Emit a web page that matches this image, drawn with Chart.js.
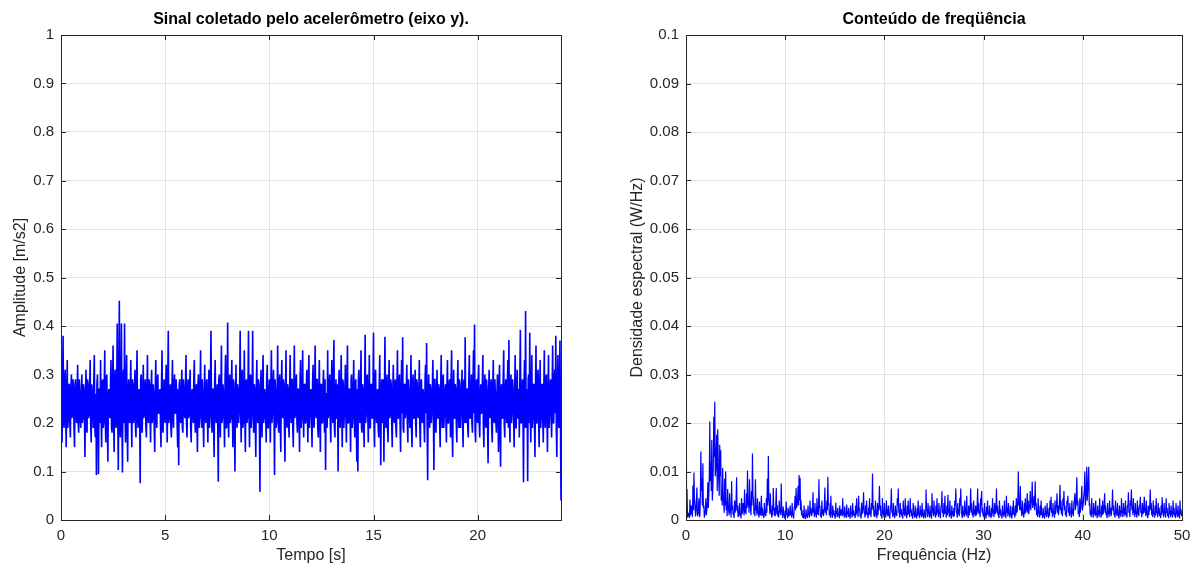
<!DOCTYPE html>
<html><head><meta charset="utf-8">
<script src="https://cdn.jsdelivr.net/npm/chart.js@4.4.1/dist/chart.umd.min.js"></script>
<style>
html,body{margin:0;padding:0;background:#fff;overflow:hidden;width:1199px;height:567px;}
canvas{position:absolute;top:0;}
#c1{left:0;}
#c2{left:600px;}
</style></head><body>
<canvas id="c1" width="600" height="567"></canvas>
<canvas id="c2" width="599" height="567"></canvas>
<script>
// ---- data ----
const sampleInterval = 0.025; // s, one row below = 1 s
const signalY = [
0.34,0.21,0.16,0.27,0.38,0.20,0.19,0.29,0.31,0.22,0.15,0.26,0.33,0.19,0.21,0.28,0.28,0.20,0.17,0.27,0.30,0.21,0.22,0.29,0.27,0.19,0.15,0.28,0.29,0.22,0.20,0.26,0.32,0.20,0.18,0.29,0.26,0.21,0.19,0.27,
0.30,0.20,0.21,0.28,0.27,0.22,0.13,0.26,0.31,0.19,0.18,0.29,0.28,0.21,0.22,0.27,0.33,0.20,0.16,0.28,0.26,0.22,0.19,0.29,0.34,0.19,0.17,0.26,0.093,0.28,0.30,0.21,0.095,0.27,0.27,0.20,0.33,0.22,0.15,0.28,
0.29,0.19,0.20,0.27,0.35,0.21,0.16,0.29,0.30,0.20,0.12,0.26,0.27,0.22,0.21,0.28,0.33,0.19,0.18,0.27,0.36,0.21,0.14,0.29,0.31,0.20,0.19,0.28,0.405,0.22,0.103,0.27,0.452,0.19,0.17,0.26,0.405,0.21,0.098,0.29,
0.31,0.20,0.405,0.22,0.16,0.28,0.34,0.19,0.12,0.27,0.29,0.21,0.20,0.26,0.33,0.22,0.15,0.29,0.28,0.20,0.21,0.27,0.31,0.19,0.17,0.28,0.35,0.21,0.19,0.26,0.27,0.22,0.076,0.29,0.30,0.20,0.18,0.27,0.32,0.21,
0.22,0.28,0.29,0.19,0.17,0.26,0.34,0.21,0.20,0.29,0.28,0.22,0.16,0.27,0.31,0.20,0.21,0.28,0.26,0.19,0.14,0.27,0.33,0.21,0.19,0.29,0.30,0.22,0.22,0.26,0.27,0.20,0.15,0.28,0.35,0.19,0.18,0.27,0.29,0.21,
0.20,0.28,0.32,0.22,0.16,0.29,0.39,0.20,0.21,0.26,0.28,0.19,0.17,0.27,0.33,0.21,0.19,0.28,0.30,0.22,0.22,0.29,0.26,0.20,0.15,0.27,0.113,0.28,0.29,0.21,0.20,0.26,0.31,0.19,0.18,0.29,0.27,0.22,0.21,0.28,
0.34,0.20,0.17,0.27,0.29,0.21,0.22,0.28,0.31,0.19,0.16,0.26,0.27,0.22,0.20,0.29,0.33,0.21,0.18,0.27,0.28,0.20,0.14,0.28,0.30,0.19,0.21,0.26,0.35,0.22,0.19,0.29,0.26,0.20,0.15,0.27,0.32,0.21,0.20,0.28,
0.29,0.22,0.16,0.26,0.31,0.19,0.22,0.29,0.39,0.21,0.18,0.27,0.27,0.20,0.13,0.28,0.33,0.22,0.20,0.26,0.28,0.19,0.079,0.29,0.30,0.21,0.17,0.27,0.36,0.20,0.21,0.28,0.26,0.22,0.15,0.29,0.34,0.19,0.19,0.26,
0.407,0.21,0.17,0.28,0.30,0.20,0.21,0.27,0.33,0.22,0.15,0.29,0.28,0.19,0.10,0.26,0.32,0.21,0.19,0.28,0.27,0.20,0.22,0.27,0.39,0.22,0.16,0.29,0.31,0.19,0.20,0.26,0.35,0.21,0.14,0.28,0.29,0.20,0.21,0.27,
0.39,0.22,0.15,0.29,0.30,0.19,0.22,0.26,0.39,0.21,0.18,0.28,0.27,0.20,0.13,0.27,0.33,0.22,0.20,0.29,0.28,0.19,0.058,0.26,0.31,0.21,0.17,0.28,0.34,0.20,0.21,0.27,0.26,0.22,0.16,0.29,0.32,0.19,0.19,0.26,
0.29,0.21,0.16,0.28,0.35,0.20,0.22,0.27,0.31,0.22,0.093,0.29,0.27,0.19,0.20,0.26,0.36,0.21,0.18,0.28,0.30,0.20,0.14,0.27,0.33,0.22,0.21,0.29,0.28,0.19,0.12,0.26,0.35,0.21,0.19,0.28,0.27,0.20,0.17,0.27,
0.34,0.22,0.20,0.29,0.29,0.19,0.15,0.26,0.36,0.21,0.22,0.28,0.30,0.20,0.18,0.27,0.27,0.22,0.14,0.29,0.33,0.19,0.21,0.26,0.35,0.21,0.17,0.28,0.28,0.20,0.20,0.27,0.31,0.22,0.16,0.29,0.34,0.19,0.22,0.26,
0.27,0.21,0.15,0.28,0.32,0.20,0.19,0.27,0.36,0.22,0.21,0.29,0.29,0.19,0.17,0.26,0.33,0.21,0.14,0.28,0.28,0.20,0.20,0.27,0.31,0.22,0.18,0.29,0.103,0.26,0.26,0.19,0.35,0.21,0.22,0.28,0.30,0.20,0.16,0.27,
0.33,0.22,0.20,0.29,0.371,0.19,0.17,0.26,0.29,0.21,0.21,0.28,0.100,0.27,0.31,0.20,0.19,0.27,0.34,0.22,0.15,0.29,0.28,0.19,0.22,0.26,0.32,0.21,0.16,0.28,0.36,0.20,0.20,0.27,0.27,0.22,0.14,0.29,0.30,0.19,
0.21,0.26,0.33,0.21,0.17,0.28,0.29,0.20,0.12,0.27,0.100,0.29,0.31,0.22,0.20,0.26,0.35,0.19,0.18,0.28,0.27,0.21,0.15,0.27,0.382,0.20,0.22,0.29,0.30,0.22,0.16,0.26,0.34,0.19,0.19,0.28,0.28,0.21,0.21,0.27,
0.386,0.20,0.15,0.29,0.31,0.22,0.20,0.26,0.27,0.19,0.17,0.28,0.34,0.21,0.113,0.27,0.29,0.20,0.21,0.29,0.12,0.26,0.378,0.22,0.19,0.28,0.30,0.19,0.16,0.27,0.33,0.21,0.22,0.29,0.28,0.20,0.15,0.26,0.32,0.22,
0.20,0.28,0.29,0.19,0.17,0.27,0.35,0.21,0.21,0.29,0.30,0.20,0.14,0.26,0.33,0.22,0.377,0.19,0.18,0.28,0.28,0.21,0.22,0.27,0.32,0.20,0.16,0.29,0.27,0.22,0.19,0.26,0.34,0.19,0.15,0.28,0.30,0.21,0.21,0.27,
0.31,0.20,0.17,0.29,0.28,0.22,0.21,0.26,0.33,0.19,0.15,0.28,0.29,0.21,0.20,0.27,0.26,0.20,0.16,0.29,0.32,0.22,0.365,0.19,0.082,0.26,0.30,0.21,0.19,0.28,0.27,0.20,0.22,0.27,0.33,0.22,0.103,0.29,0.29,0.19,
0.18,0.26,0.31,0.21,0.21,0.28,0.27,0.20,0.15,0.27,0.34,0.22,0.19,0.29,0.30,0.19,0.22,0.26,0.28,0.21,0.16,0.28,0.33,0.20,0.20,0.27,0.29,0.22,0.17,0.29,0.35,0.19,0.13,0.26,0.31,0.21,0.21,0.28,0.27,0.20,
0.16,0.27,0.33,0.22,0.19,0.29,0.28,0.19,0.22,0.26,0.31,0.21,0.15,0.28,0.29,0.20,0.377,0.22,0.20,0.27,0.27,0.19,0.17,0.29,0.34,0.21,0.21,0.26,0.30,0.20,0.18,0.28,0.35,0.22,0.403,0.19,0.16,0.27,0.29,0.21,
0.20,0.29,0.32,0.20,0.17,0.26,0.28,0.22,0.22,0.28,0.34,0.19,0.15,0.27,0.30,0.21,0.19,0.29,0.27,0.20,0.117,0.26,0.31,0.22,0.21,0.28,0.29,0.19,0.16,0.27,0.33,0.21,0.20,0.29,0.26,0.20,0.18,0.26,0.30,0.22,
0.14,0.28,0.32,0.19,0.110,0.27,0.28,0.21,0.21,0.29,0.35,0.20,0.17,0.26,0.29,0.22,0.20,0.28,0.33,0.19,0.371,0.21,0.16,0.27,0.30,0.20,0.22,0.29,0.27,0.22,0.15,0.26,0.34,0.19,0.19,0.28,0.31,0.21,0.21,0.27,
0.17,0.29,0.392,0.20,0.20,0.26,0.29,0.22,0.078,0.28,0.33,0.19,0.431,0.21,0.19,0.27,0.080,0.29,0.30,0.20,0.386,0.22,0.16,0.26,0.34,0.19,0.21,0.28,0.28,0.21,0.13,0.27,0.36,0.20,0.20,0.29,0.31,0.22,0.15,0.26,
0.33,0.19,0.21,0.28,0.28,0.21,0.16,0.27,0.35,0.20,0.19,0.29,0.30,0.22,0.14,0.26,0.34,0.19,0.22,0.28,0.29,0.21,0.17,0.27,0.36,0.20,0.20,0.29,0.31,0.22,0.38,0.19,0.13,0.26,0.34,0.21,0.19,0.28,0.37,0.20,
0.04
];

const freqStep = 0.05; // Hz, one row below = 1 Hz
const psdValues = [
0.1,0.004,0.0064,0.0005,0.0008,0.0012,0.0015,0.0004,0.0042,0.0010,0.0012,0.0030,0.0025,0.0006,0.0071,0.0020,0.0098,0.0045,0.0030,0.0008,
0.0018,0.0040,0.0067,0.0008,0.0022,0.0012,0.0045,0.0006,0.0010,0.0050,0.0141,0.0060,0.0085,0.0030,0.0117,0.0025,0.0030,0.0005,0.0012,0.0020,
0.0045,0.0010,0.0020,0.0035,0.0078,0.0025,0.0052,0.0090,0.0203,0.0080,0.0120,0.0060,0.0165,0.0040,0.0060,0.0110,0.0213,0.0130,0.0244,0.0090,
0.0105,0.0140,0.0176,0.0060,0.0187,0.0120,0.0080,0.0050,0.0155,0.0090,0.0144,0.0040,0.0060,0.0030,0.0107,0.0045,0.0035,0.0015,0.0085,0.0030,
0.0100,0.0020,0.0040,0.0008,0.0064,0.0030,0.0020,0.0010,0.0055,0.0015,0.0025,0.0005,0.0080,0.0020,0.0030,0.0012,0.0012,0.0004,0.0040,0.0015,
0.0022,0.0040,0.0088,0.0018,0.0030,0.0006,0.0010,0.0020,0.0035,0.0008,0.0015,0.0003,0.0045,0.0012,0.0020,0.0035,0.0028,0.0010,0.0063,0.0015,
0.0030,0.0012,0.0055,0.0025,0.0102,0.0030,0.0040,0.0015,0.0084,0.0040,0.0025,0.0010,0.0060,0.0030,0.0137,0.0050,0.0045,0.0012,0.0020,0.0008,
0.0084,0.0020,0.0030,0.0010,0.0045,0.0015,0.0015,0.0005,0.0038,0.0012,0.0010,0.0025,0.0050,0.0008,0.0025,0.0010,0.0012,0.0004,0.0035,0.0010,
0.0020,0.0008,0.0045,0.0015,0.0085,0.0030,0.0132,0.0040,0.0040,0.0012,0.0055,0.0020,0.0015,0.0005,0.0030,0.0010,0.0066,0.0020,0.0025,0.0008,
0.0010,0.0030,0.0066,0.0012,0.0030,0.0008,0.0018,0.0005,0.0040,0.0015,0.0022,0.0010,0.0075,0.0020,0.0015,0.0004,0.0028,0.0010,0.0010,0.0003,
0.0020,0.0008,0.0038,0.0012,0.0012,0.0004,0.0025,0.0010,0.0008,0.0015,0.0030,0.0010,0.0018,0.0005,0.0035,0.0012,0.0010,0.0003,0.0022,0.0030,
0.0050,0.0020,0.0066,0.0025,0.0030,0.0040,0.0070,0.0030,0.0093,0.0040,0.0087,0.0020,0.0040,0.0010,0.0020,0.0005,0.0012,0.0003,0.0030,0.0008,
0.0005,0.0002,0.0022,0.0008,0.0010,0.0004,0.0030,0.0010,0.0015,0.0005,0.0040,0.0012,0.0025,0.0008,0.0012,0.0020,0.0057,0.0015,0.0020,0.0006,
0.0035,0.0010,0.0015,0.0005,0.0045,0.0012,0.0028,0.0010,0.0084,0.0025,0.0030,0.0008,0.0010,0.0004,0.0040,0.0012,0.0022,0.0008,0.0015,0.0030,
0.0067,0.0015,0.0025,0.0010,0.0040,0.0020,0.0089,0.0030,0.0035,0.0010,0.0018,0.0005,0.0050,0.0015,0.0012,0.0004,0.0030,0.0010,0.0020,0.0008,
0.0008,0.0003,0.0035,0.0012,0.0018,0.0006,0.0025,0.0010,0.0012,0.0004,0.0030,0.0010,0.0010,0.0020,0.0022,0.0008,0.0045,0.0012,0.0015,0.0005,
0.0028,0.0010,0.0010,0.0004,0.0032,0.0012,0.0018,0.0006,0.0025,0.0010,0.0008,0.0003,0.0030,0.0012,0.0015,0.0005,0.0035,0.0010,0.0020,0.0008,
0.0012,0.0004,0.0030,0.0010,0.0045,0.0015,0.0018,0.0006,0.0050,0.0020,0.0025,0.0008,0.0010,0.0003,0.0035,0.0012,0.0020,0.0030,0.0057,0.0015,
0.0015,0.0005,0.0030,0.0010,0.0040,0.0015,0.0012,0.0004,0.0025,0.0010,0.0045,0.0012,0.0018,0.0006,0.0035,0.0020,0.0096,0.0025,0.0030,0.0008,
0.0020,0.0006,0.0040,0.0012,0.0012,0.0004,0.0035,0.0010,0.0025,0.0030,0.0070,0.0020,0.0030,0.0008,0.0010,0.0003,0.0045,0.0012,0.0020,0.0006,
0.0035,0.0010,0.0015,0.0005,0.0040,0.0012,0.0022,0.0008,0.0030,0.0010,0.0010,0.0003,0.0028,0.0030,0.0065,0.0015,0.0018,0.0006,0.0035,0.0010,
0.0012,0.0004,0.0030,0.0010,0.0020,0.0008,0.0045,0.0030,0.0065,0.0015,0.0015,0.0005,0.0035,0.0012,0.0022,0.0008,0.0010,0.0003,0.0040,0.0012,
0.0025,0.0008,0.0045,0.0015,0.0012,0.0004,0.0030,0.0010,0.0040,0.0012,0.0018,0.0006,0.0045,0.0015,0.0022,0.0008,0.0010,0.0003,0.0035,0.0010,
0.0015,0.0005,0.0030,0.0010,0.0008,0.0003,0.0025,0.0008,0.0040,0.0012,0.0012,0.0004,0.0030,0.0010,0.0020,0.0006,0.0035,0.0012,0.0010,0.0003,
0.0022,0.0008,0.0012,0.0004,0.0063,0.0020,0.0020,0.0006,0.0035,0.0012,0.0015,0.0005,0.0030,0.0010,0.0010,0.0003,0.0055,0.0015,0.0025,0.0008,
0.0040,0.0012,0.0015,0.0005,0.0030,0.0010,0.0045,0.0015,0.0020,0.0006,0.0035,0.0012,0.0012,0.0004,0.0028,0.0030,0.0059,0.0015,0.0020,0.0006,
0.0035,0.0012,0.0050,0.0015,0.0015,0.0005,0.0030,0.0010,0.0052,0.0015,0.0020,0.0006,0.0040,0.0012,0.0010,0.0003,0.0030,0.0010,0.0018,0.0006,
0.0025,0.0008,0.0040,0.0030,0.0065,0.0015,0.0015,0.0005,0.0035,0.0012,0.0022,0.0008,0.0045,0.0030,0.0065,0.0015,0.0012,0.0004,0.0030,0.0010,
0.0018,0.0006,0.0040,0.0012,0.0025,0.0008,0.0050,0.0015,0.0012,0.0004,0.0030,0.0010,0.0020,0.0030,0.0065,0.0015,0.0035,0.0010,0.0015,0.0005,
0.0040,0.0012,0.0022,0.0008,0.0030,0.0010,0.0012,0.0030,0.0065,0.0015,0.0035,0.0012,0.0018,0.0006,0.0045,0.0030,0.0060,0.0015,0.0025,0.0008,
0.0015,0.0005,0.0035,0.0010,0.0010,0.0003,0.0028,0.0010,0.0040,0.0012,0.0018,0.0006,0.0030,0.0010,0.0012,0.0004,0.0025,0.0008,0.0045,0.0015,
0.0020,0.0006,0.0035,0.0012,0.0015,0.0030,0.0065,0.0015,0.0030,0.0010,0.0012,0.0004,0.0040,0.0012,0.0022,0.0008,0.0010,0.0003,0.0030,0.0010,
0.0018,0.0006,0.0040,0.0012,0.0012,0.0004,0.0050,0.0015,0.0025,0.0008,0.0035,0.0012,0.0015,0.0005,0.0030,0.0010,0.0010,0.0003,0.0028,0.0010,
0.0040,0.0012,0.0015,0.0005,0.0030,0.0010,0.0045,0.0015,0.0020,0.0040,0.0100,0.0030,0.0035,0.0020,0.0070,0.0020,0.0025,0.0008,0.0040,0.0012,
0.0015,0.0005,0.0035,0.0012,0.0045,0.0015,0.0020,0.0030,0.0055,0.0015,0.0040,0.0012,0.0025,0.0030,0.0060,0.0020,0.0035,0.0040,0.0079,0.0025,
0.0030,0.0040,0.0050,0.0020,0.0080,0.0030,0.0035,0.0010,0.0020,0.0006,0.0045,0.0015,0.0015,0.0005,0.0030,0.0010,0.0040,0.0012,0.0012,0.0004,
0.0025,0.0008,0.0010,0.0003,0.0030,0.0010,0.0018,0.0006,0.0035,0.0012,0.0012,0.0004,0.0025,0.0008,0.0040,0.0020,0.0048,0.0015,0.0020,0.0006,
0.0035,0.0012,0.0015,0.0005,0.0040,0.0012,0.0025,0.0030,0.0055,0.0015,0.0030,0.0010,0.0020,0.0040,0.0072,0.0020,0.0040,0.0012,0.0025,0.0008,
0.0045,0.0030,0.0060,0.0020,0.0030,0.0010,0.0018,0.0006,0.0040,0.0030,0.0050,0.0015,0.0025,0.0008,0.0035,0.0012,0.0015,0.0005,0.0040,0.0012,
0.0022,0.0008,0.0035,0.0040,0.0055,0.0020,0.0030,0.0050,0.0088,0.0030,0.0040,0.0012,0.0020,0.0006,0.0045,0.0015,0.0030,0.0040,0.0070,0.0020,
0.0025,0.0035,0.0050,0.0060,0.0100,0.0030,0.0040,0.0070,0.0110,0.0040,0.0060,0.0080,0.0110,0.0030,0.0035,0.0010,0.0020,0.0006,0.0045,0.0015,
0.0015,0.0005,0.0035,0.0012,0.0025,0.0008,0.0040,0.0012,0.0012,0.0004,0.0030,0.0010,0.0020,0.0006,0.0045,0.0015,0.0015,0.0005,0.0030,0.0010,
0.0040,0.0012,0.0020,0.0030,0.0055,0.0015,0.0030,0.0010,0.0012,0.0004,0.0035,0.0012,0.0018,0.0006,0.0040,0.0012,0.0025,0.0008,0.0015,0.0030,
0.0062,0.0020,0.0030,0.0010,0.0015,0.0005,0.0040,0.0012,0.0022,0.0008,0.0035,0.0012,0.0010,0.0003,0.0030,0.0010,0.0020,0.0006,0.0045,0.0015,
0.0018,0.0006,0.0035,0.0012,0.0025,0.0008,0.0040,0.0012,0.0015,0.0005,0.0030,0.0030,0.0057,0.0015,0.0020,0.0006,0.0040,0.0030,0.0063,0.0020,
0.0030,0.0010,0.0045,0.0015,0.0020,0.0006,0.0035,0.0012,0.0015,0.0005,0.0040,0.0012,0.0025,0.0008,0.0030,0.0030,0.0048,0.0015,0.0018,0.0006,
0.0035,0.0012,0.0015,0.0030,0.0048,0.0015,0.0025,0.0008,0.0040,0.0012,0.0012,0.0004,0.0030,0.0010,0.0020,0.0030,0.0063,0.0020,0.0035,0.0010,
0.0020,0.0006,0.0040,0.0012,0.0015,0.0005,0.0030,0.0010,0.0045,0.0015,0.0018,0.0006,0.0035,0.0012,0.0025,0.0008,0.0012,0.0004,0.0030,0.0010,
0.0047,0.0015,0.0020,0.0006,0.0035,0.0012,0.0015,0.0005,0.0045,0.0015,0.0025,0.0008,0.0012,0.0004,0.0035,0.0012,0.0020,0.0006,0.0030,0.0010,
0.0015,0.0005,0.0040,0.0012,0.0025,0.0008,0.0012,0.0004,0.0035,0.0012,0.0020,0.0006,0.0030,0.0010,0.0010,0.0003,0.0040,0.0012,0.0022,0.0008,
0.0015
];

const timeTicks = [0, 5, 10, 15, 20];
const ampTicks = [0, 0.1, 0.2, 0.3, 0.4, 0.5, 0.6, 0.7, 0.8, 0.9, 1];
const freqTicks = [0, 10, 20, 30, 40, 50];
const psdTicks = [0, 0.01, 0.02, 0.03, 0.04, 0.05, 0.06, 0.07, 0.08, 0.09, 0.1];

// ---- drawing ----
const FONT = '"Liberation Sans", Arial, Helvetica, sans-serif';
const AXIS_COLOR = '#262626';
Chart.defaults.font.family = FONT;
Chart.defaults.color = AXIS_COLOR;

const fmt = v => String(parseFloat(Number(v).toFixed(6)));

const boxPlugin = {
  id: 'box',
  afterDatasetsDraw(chart, args, opts) {
    const {ctx, chartArea: a, scales: {x, y}} = chart;
    ctx.save();
    ctx.strokeStyle = AXIS_COLOR;
    ctx.lineWidth = 1;
    const L = 5;
    ctx.beginPath();
    x.ticks.forEach(t => {
      const px = Math.round(x.getPixelForValue(t.value)) + 0.5;
      ctx.moveTo(px, a.bottom); ctx.lineTo(px, a.bottom - L);
      ctx.moveTo(px, a.top); ctx.lineTo(px, a.top + L);
    });
    y.ticks.forEach(t => {
      const py = Math.round(y.getPixelForValue(t.value)) + 0.5;
      ctx.moveTo(a.left, py); ctx.lineTo(a.left + L, py);
      ctx.moveTo(a.right, py); ctx.lineTo(a.right - L, py);
    });
    ctx.stroke();
    ctx.strokeRect(Math.round(a.left) + 0.5, Math.round(a.top) + 0.5,
                   Math.round(a.right - a.left), Math.round(a.bottom - a.top));
    ctx.fillStyle = '#000';
    ctx.font = 'bold 16px ' + FONT;
    ctx.textAlign = 'center';
    ctx.textBaseline = 'middle';
    ctx.fillText(opts.text, (a.left + a.right) / 2, 20);
    ctx.restore();
  }
};

function makeChart(id, cfg) {
  new Chart(document.getElementById(id), {
    type: 'line',
    data: {
      datasets: [{
        data: cfg.points,
        borderColor: 'rgb(0,0,255)',
        borderWidth: cfg.lineWidth,
        borderJoinStyle: 'bevel',
        pointRadius: 0,
        tension: 0.000001, // keeps straight segments but uses the exact-position path
        fill: false
      }]
    },
    options: {
      responsive: false,
      animation: false,
      events: [],
      layout: { padding: { left: 0, right: cfg.padRight, top: 35, bottom: 0 } },
      plugins: {
        legend: { display: false },
        tooltip: { enabled: false },
        title: { display: false },
        box: { text: cfg.title }
      },
      scales: {
        x: {
          type: 'linear',
          min: cfg.xMin, max: cfg.xMax,
          afterBuildTicks: s => { s.ticks = cfg.xTicks.map(v => ({ value: v })); },
          afterFit: s => { s.height = 47; },
          grid: { color: '#e3e3e3', drawTicks: false },
          border: { display: false },
          ticks: { padding: 7, font: { size: 15 }, color: AXIS_COLOR, maxRotation: 0, callback: fmt },
          title: { display: true, text: cfg.xTitle, font: { size: 16 }, color: AXIS_COLOR, padding: { top: 0, bottom: 1.4 } }
        },
        y: {
          type: 'linear',
          min: cfg.yMin, max: cfg.yMax,
          afterBuildTicks: s => { s.ticks = cfg.yTicks.map(v => ({ value: v })); },
          afterFit: s => { s.width = cfg.yAxisWidth; },
          grid: { color: '#e3e3e3', drawTicks: false },
          border: { display: false },
          ticks: { padding: 7, font: { size: 15 }, color: AXIS_COLOR, callback: fmt },
          title: { display: true, text: cfg.yTitle, font: { size: 16 }, color: AXIS_COLOR, padding: { top: cfg.yTitlePad, bottom: 0 } }
        }
      }
    },
    plugins: [boxPlugin]
  });
}

makeChart('c1', {
  points: signalY.map((v, i) => ({ x: i * sampleInterval, y: v })),
  xMin: 0, xMax: 24, xTicks: timeTicks,
  yMin: 0, yMax: 1, yTicks: ampTicks,
  title: 'Sinal coletado pelo acelerômetro (eixo y).',
  xTitle: 'Tempo [s]', yTitle: 'Amplitude [m/s2]',
  yAxisWidth: 61, padRight: 39, yTitlePad: 11.4, lineWidth: 1.6
});

makeChart('c2', {
  points: psdValues.map((v, i) => ({ x: i * freqStep, y: v })),
  xMin: 0, xMax: 50, xTicks: freqTicks,
  yMin: 0, yMax: 0.1, yTicks: psdTicks,
  title: 'Conteúdo de freqüência',
  xTitle: 'Frequência (Hz)', yTitle: 'Densidade espectral (W/Hz)',
  yAxisWidth: 86, padRight: 17, yTitlePad: 28.4, lineWidth: 1.2
});
</script>
</body></html>
